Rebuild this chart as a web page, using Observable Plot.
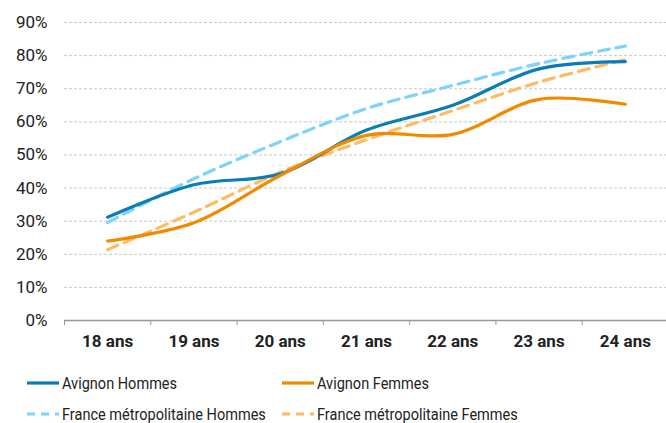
<!DOCTYPE html>
<html><head><meta charset="utf-8">
<script src="https://cdn.jsdelivr.net/npm/d3@7"></script>
<script src="https://cdn.jsdelivr.net/npm/@observablehq/plot@0.6"></script>
<style>
body{margin:0;background:#fff;font-family:Roboto,sans-serif;}
#wrap{width:666px;}
.legend{display:grid;grid-template-columns:255px 255px;padding-left:27px;row-gap:9px;margin-top:12px;}
.item{display:flex;align-items:center;font-size:16.5px;color:#222;height:22px;white-space:nowrap;}
.item svg{margin-right:3px;flex:none;}
.item span{display:inline-block;transform:scaleX(0.88);transform-origin:left center;}
</style></head>
<body><div id="wrap"></div>
<script>
const categories = ["18 ans","19 ans","20 ans","21 ans","22 ans","23 ans","24 ans"];
const avignonHommes = [31.2, 41.0, 44.3, 57.5, 65.0, 76.0, 78.2];
const avignonFemmes = [24.0, 29.5, 43.8, 55.9, 56.2, 66.8, 65.3];
const franceHommes = [29.6, 42.8, 54.0, 64.0, 71.0, 77.6, 82.9];
const franceFemmes = [21.4, 32.7, 44.8, 54.6, 63.4, 72.0, 78.8];
const yTicks = [0,10,20,30,40,50,60,70,80,90];

const series = [
  {name:"Avignon Hommes", values:avignonHommes, color:"#0a7db5", dash:null},
  {name:"Avignon Femmes", values:avignonFemmes, color:"#f28a00", dash:null},
  {name:"France métropolitaine Hommes", values:franceHommes, color:"#7fd3fb", dash:"11,7"},
  {name:"France métropolitaine Femmes", values:franceFemmes, color:"#ffba63", dash:"11,7"}
];
const idx = categories.map((c,i)=>i);
const bounds = d3.range(-0.5, categories.length, 1);

const lineMarks = [];
[2,3,0,1].forEach(k=>{
  const s = series[k];
  lineMarks.push(Plot.line(idx, {x:i=>i, y:i=>s.values[i], stroke:s.color, strokeWidth:3.2,
    strokeDasharray:s.dash, curve:"catmull-rom"}));
});

const chart = Plot.plot({
  width:666, height:360,
  marginLeft:64, marginRight:0, marginTop:22, marginBottom:40,
  style:{fontFamily:"Roboto, sans-serif", fontSize:"17px", color:"#222", background:"#fff"},
  x:{type:"linear", domain:[-0.5, categories.length-0.5], range:[64, 668]},
  y:{domain:[0,90], range:[320,22]},
  marks:[
    Plot.gridY(yTicks.filter(d=>d>0), {stroke:"#c8c8c8", strokeOpacity:1, strokeDasharray:"3,2", strokeWidth:1}),
    Plot.axisY(yTicks, {tickSize:0, tickPadding:17, tickFormat:d=>d+"%", fontSize:17, fill:"#222", label:null}),
    Plot.axisX(idx, {tickSize:0, tickPadding:14, tickFormat:i=>categories[i], fontSize:17, fontWeight:"bold", fill:"#222", label:null}),
    Plot.axisX(bounds, {tickSize:5, tickFormat:()=>"", stroke:"#999", label:null}),
    Plot.ruleY([0], {stroke:"#999", strokeWidth:1.5}),
    ...lineMarks
  ]
});
const wrap = document.getElementById("wrap");
wrap.appendChild(chart);

const leg = document.createElement("div");
leg.className = "legend";
series.forEach(s=>{
  const it = document.createElement("div");
  it.className = "item";
  const dash = s.dash ? 'stroke-dasharray="8,6"' : '';
  it.innerHTML = `<svg width="32" height="6"><line x1="0" y1="3" x2="32" y2="3" stroke="${s.color}" stroke-width="3.2" ${dash}/></svg><span>${s.name}</span>`;
  leg.appendChild(it);
});
wrap.appendChild(leg);
</script></body></html>
